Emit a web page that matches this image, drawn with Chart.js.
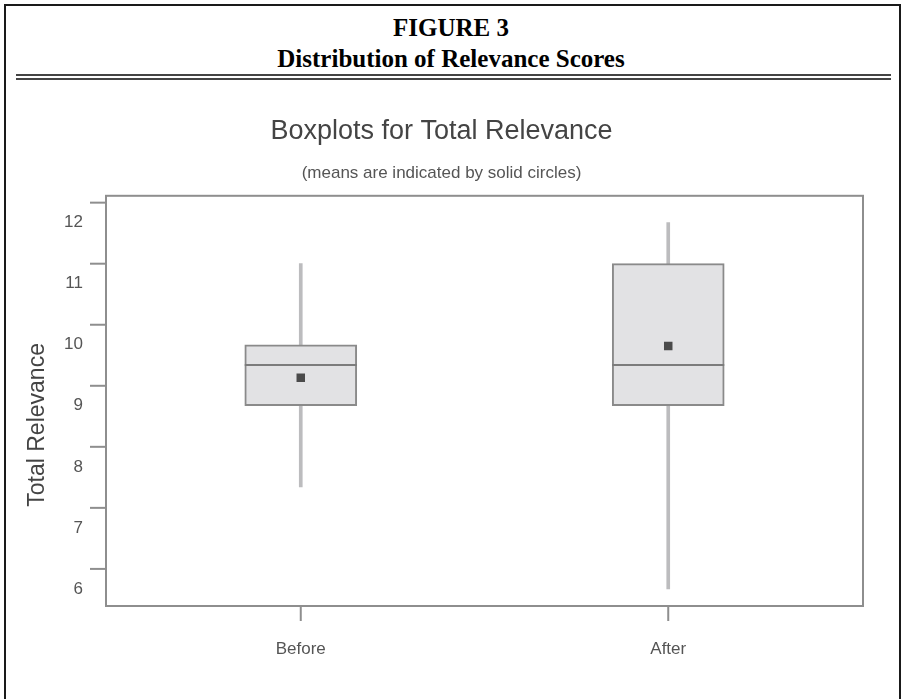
<!DOCTYPE html>
<html>
<head>
<meta charset="utf-8">
<script src="https://cdn.jsdelivr.net/npm/chart.js@4.4.1/dist/chart.umd.min.js"></script>
<style>
  html, body { margin: 0; padding: 0; background: #fff; overflow: hidden; }
  #page { position: relative; width: 902px; height: 699px; }
  #border { position: absolute; left: 4px; top: 4px; width: 893px; height: 720px; border: 2px solid #1a1a1a; border-bottom: none; }
  .head { position: absolute; left: 0; width: 902px; text-align: center; font-family: 'Liberation Serif', 'Times New Roman', serif; font-weight: bold; font-size: 25px; line-height: 30px; color: #000; }
  #fig { top: 13px; }
  #sub { top: 44px; }
  .rule { position: absolute; left: 16px; width: 875px; height: 2px; background: #444; }
  canvas { position: absolute; left: 0; top: 0; }
</style>
</head>
<body>
<div id="page">
  <div id="border"></div>
  <div class="head" id="fig">FIGURE 3</div>
  <div class="head" id="sub">Distribution of Relevance Scores</div>
  <div class="rule" style="top:74px"></div>
  <div class="rule" style="top:78px"></div>
  <canvas id="boxChart" width="902" height="699"></canvas>
</div>
<script>
const categories = ['Before', 'After'];
const whiskerLow = [7.67, 6.0];
const q1 = [9.0, 9.0];
const medians = [9.67, 9.67];
const q3 = [10.0, 11.33];
const whiskerHigh = [11.33, 12.0];
const means = [9.46, 9.98];
const yTicks = [6, 7, 8, 9, 10, 11, 12];

Chart.defaults.font.family = "'Liberation Sans', Arial, sans-serif";

// frame, tick marks, medians and the axis title
const boxExtras = {
    id: 'boxExtras',
    afterDraw(chart) {
        const { ctx, chartArea: a, scales: { x, y } } = chart;
        ctx.save();

        ctx.strokeStyle = '#7c7c7c';
        ctx.lineWidth = 2;
        chart.getDatasetMeta(1).data.forEach((bar, i) => {
            const py = y.getPixelForValue(medians[i]);
            ctx.beginPath();
            ctx.moveTo(bar.x - bar.width / 2, py);
            ctx.lineTo(bar.x + bar.width / 2, py);
            ctx.stroke();
        });

        ctx.strokeStyle = '#8e8e8e';
        ctx.strokeRect(a.left, a.top, a.right - a.left, a.bottom - a.top);

        yTicks.forEach(v => {
            const py = y.getPixelForValue(v) - 20;
            ctx.beginPath();
            ctx.moveTo(a.left - 16, py);
            ctx.lineTo(a.left, py);
            ctx.stroke();
        });
        categories.forEach((c, i) => {
            const px = x.getPixelForValue(i);
            ctx.beginPath();
            ctx.moveTo(px, a.bottom);
            ctx.lineTo(px, a.bottom + 15);
            ctx.stroke();
        });

        ctx.translate(38, (a.top + a.bottom) / 2 + 24);
        ctx.rotate(-Math.PI / 2);
        ctx.fillStyle = '#444';
        ctx.font = "23px 'Liberation Sans', Arial, sans-serif";
        ctx.textAlign = 'center';
        ctx.textBaseline = 'middle';
        ctx.fillText('Total Relevance', 0, 0);
        ctx.restore();
    }
};

new Chart(document.getElementById('boxChart'), {
    type: 'bar',
    data: {
        datasets: [{
            label: 'Whiskers',
            data: categories.map((c, i) => ({ x: i, y: [whiskerLow[i], whiskerHigh[i]] })),
            backgroundColor: '#bcbcbe',
            borderWidth: 0,
            barThickness: 3,
            grouped: false,
            order: 3
        }, {
            label: 'Box',
            data: categories.map((c, i) => ({ x: i, y: [q1[i], q3[i]] })),
            backgroundColor: '#e2e2e4',
            borderColor: '#8a8a8a',
            borderWidth: 2,
            borderSkipped: false,
            barThickness: 112,
            grouped: false,
            order: 2
        }, {
            type: 'scatter',
            label: 'Mean',
            data: categories.map((c, i) => ({ x: i, y: means[i] })),
            pointStyle: 'rect',
            radius: 6,
            backgroundColor: '#4a4a4a',
            borderWidth: 0,
            order: 1
        }]
    },
    options: {
        responsive: false,
        animation: false,
        events: [],
        layout: { padding: { top: 115, left: 20, right: 39, bottom: 0 } },
        plugins: {
            legend: { display: false },
            tooltip: { enabled: false },
            title: {
                display: true,
                text: 'Boxplots for Total Relevance',
                color: '#444',
                font: { size: 27, weight: 'normal' },
                padding: { top: 0, bottom: 16 }
            },
            subtitle: {
                display: true,
                text: '(means are indicated by solid circles)',
                color: '#555',
                font: { size: 17 },
                padding: { top: 0, bottom: 12 }
            }
        },
        scales: {
            x: {
                type: 'linear',
                offset: false,
                min: -0.53,
                max: 1.53,
                afterBuildTicks: s => { s.ticks = categories.map((c, i) => ({ value: i })); },
                afterFit: s => { s.height = 93; },
                grid: { display: false, drawTicks: false },
                border: { display: false },
                ticks: {
                    color: '#555',
                    font: { size: 17 },
                    padding: 33,
                    callback: v => categories[Math.round(v)]
                }
            },
            y: {
                min: 5.72,
                max: 12.44,
                afterBuildTicks: s => { s.ticks = yTicks.map(v => ({ value: v })); },
                afterFit: s => { s.width = 86; },
                grid: { display: false, drawTicks: false },
                border: { display: false },
                ticks: {
                    color: '#555',
                    font: { size: 17 },
                    padding: 23
                }
            }
        }
    },
    plugins: [boxExtras]
});
</script>
</body>
</html>
